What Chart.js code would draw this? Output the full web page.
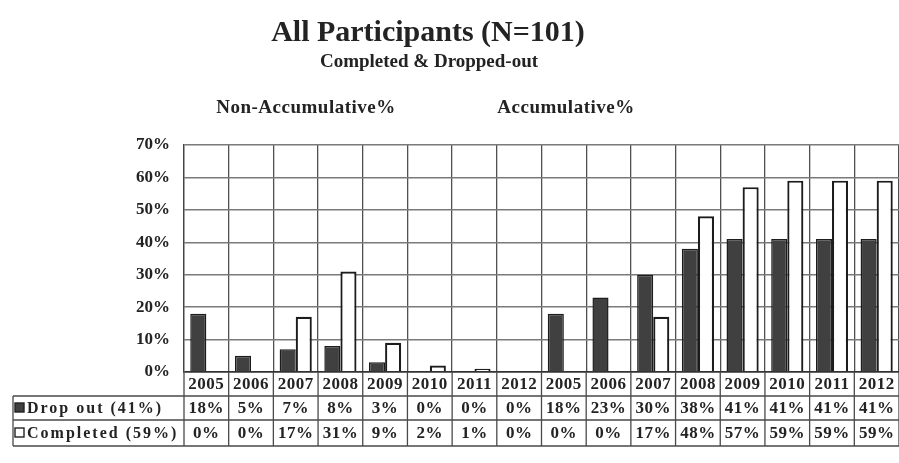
<!DOCTYPE html>
<html>
<head>
<meta charset="utf-8">
<title>All Participants (N=101)</title>
<script src="https://cdn.jsdelivr.net/npm/chart.js@4.4.1/dist/chart.umd.min.js"></script>
<style>
    html, body { margin: 0; padding: 0; background: #fff; }
    #wrap { width: 899px; height: 463px; }
</style>
</head>
<body>
<div id="wrap"><canvas id="dropChart" width="899" height="463"></canvas></div>
<script>
// Data
const years = ['2005', '2006', '2007', '2008', '2009', '2010', '2011', '2012'];
const labels = years.concat(years); // non-accumulative, then accumulative
const dropOut = [18, 5, 7, 8, 3, 0, 0, 0, 18, 23, 30, 38, 41, 41, 41, 41];
const completed = [0, 0, 17, 31, 9, 2, 1, 0, 0, 0, 17, 48, 57, 59, 59, 59];
const yTicks = [0, 10, 20, 30, 40, 50, 60, 70];
const seriesNames = ['Drop out (41%)', 'Completed (59%)'];
const sectionNames = ['Non-Accumulative%', 'Accumulative%'];
const mainTitle = 'All Participants (N=101)';
const subTitle = 'Completed & Dropped-out';

const serif = "'Liberation Serif', 'Times New Roman', serif";
const ink = '#232323';
const darkFill = '#404040';

// titles + data table under the plot
const tablePlugin = {
    id: 'dataTable',
    afterDraw(chart) {
        const ctx = chart.ctx;
        const a = chart.chartArea;
        const x = chart.scales.x;
        const colW = (a.right - a.left) / labels.length;
        const rowY = [a.bottom, a.bottom + 24, a.bottom + 48, a.bottom + 74];
        const legendLeft = 13;

        ctx.save();
        ctx.fillStyle = ink;
        ctx.textAlign = 'center';
        ctx.textBaseline = 'middle';
        ctx.font = 'bold 30px ' + serif;
        ctx.fillText(mainTitle, 428, 33);
        ctx.font = 'bold 19px ' + serif;
        ctx.fillText(subTitle, 429, 62);
        ctx.font = 'bold 19px ' + serif;
        ctx.letterSpacing = '0.5px';
        ctx.fillText(sectionNames[0], 306, 108);
        ctx.fillText(sectionNames[1], 566, 108);

        // table lines
        ctx.strokeStyle = '#4a4a4a';
        ctx.lineWidth = 1.3;
        ctx.beginPath();
        for (let i = 0; i <= labels.length; i++) {
            const px = a.left + i * colW;
            ctx.moveTo(px, rowY[0]);
            ctx.lineTo(px, rowY[3]);
        }
        ctx.moveTo(legendLeft, rowY[1]);
        ctx.lineTo(legendLeft, rowY[3]);
        for (let r = 1; r < rowY.length; r++) {
            ctx.moveTo(legendLeft, rowY[r]);
            ctx.lineTo(a.right, rowY[r]);
        }
        ctx.stroke();

        // years and values
        ctx.font = 'bold 17px ' + serif;
        ctx.letterSpacing = '0.5px';
        labels.forEach((lab, i) => {
            const cx = x.getPixelForValue(i);
            ctx.fillText(lab, cx, (rowY[0] + rowY[1]) / 2 + 1);
            ctx.fillText(dropOut[i] + '%', cx, (rowY[1] + rowY[2]) / 2 + 1);
            ctx.fillText(completed[i] + '%', cx, (rowY[2] + rowY[3]) / 2 + 1);
        });

        // legend keys
        const fills = [darkFill, '#ffffff'];
        ctx.textAlign = 'left';
        ctx.font = 'bold 16px ' + serif;
        ctx.letterSpacing = '2px';
        seriesNames.forEach((name, r) => {
            const cy = (rowY[r + 1] + rowY[r + 2]) / 2;
            ctx.fillStyle = fills[r];
            ctx.fillRect(15, cy - 5, 9, 9);
            ctx.strokeStyle = '#222';
            ctx.lineWidth = 1.4;
            ctx.strokeRect(15, cy - 5, 9, 9);
            ctx.fillStyle = ink;
            ctx.fillText(name, 27, cy + 1);
        });
        ctx.restore();
    }
};

const ctx = document.getElementById('dropChart').getContext('2d');
const dropChart = new Chart(ctx, {
    type: 'bar',
    data: {
        labels: labels,
        datasets: [{
            label: seriesNames[0],
            data: dropOut,
            backgroundColor: darkFill,
            borderColor: '#1c1c1c',
            borderWidth: 1.5
        }, {
            label: seriesNames[1],
            data: completed,
            backgroundColor: '#ffffff',
            borderColor: '#1c1c1c',
            borderWidth: 2.2
        }]
    },
    plugins: [tablePlugin],
    options: {
        responsive: false,
        animation: false,
        categoryPercentage: 0.72,
        barPercentage: 1.0,
        layout: {
            padding: { top: 145, right: 0, bottom: 91, left: 0 }
        },
        plugins: {
            legend: { display: false },
            title: { display: false },
            tooltip: { enabled: false }
        },
        scales: {
            x: {
                offset: true,
                ticks: { display: false },
                grid: {
                    offset: true,
                    color: '#505050',
                    lineWidth: 1.3,
                    drawTicks: false
                },
                border: { display: false }
            },
            y: {
                min: 0,
                max: 70,
                afterFit(scale) { scale.width = 184; },
                afterBuildTicks(scale) {
                    scale.ticks = yTicks.map(v => ({ value: v }));
                },
                ticks: {
                    color: ink,
                    padding: 14,
                    font: { family: serif, size: 17, weight: 'bold' },
                    callback: v => v + '%'
                },
                grid: {
                    color: ctx => ctx.tick && ctx.tick.value === 0 ? '#333' : '#7a7a7a',
                    lineWidth: ctx => ctx.tick && ctx.tick.value === 0 ? 1.8 : 1.4,
                    drawTicks: false
                },
                border: { display: true, color: '#444', width: 1.3 }
            }
        }
    }
});
</script>
</body>
</html>
